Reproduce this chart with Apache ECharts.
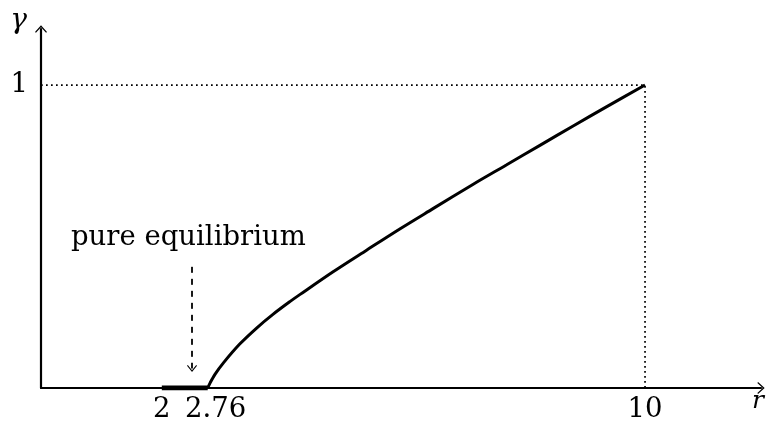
<!DOCTYPE html>
<html>
<head>
<meta charset="utf-8">
<script src="https://cdn.jsdelivr.net/npm/echarts@6/dist/echarts.min.js"></script>
<style>html,body{margin:0;padding:0;background:#fff}#c{width:769px;height:424px}</style>
</head>
<body>
<div id="c"></div>
<script>
// ---- data ----
const curveR     = [2.76, 2.80, 2.88, 3.02, 3.29, 3.57, 3.84, 4.12, 4.29, 4.83, 5.39, 5.94, 6.49, 7.15, 7.71, 8.26, 8.81, 9.36, 10];
const curveGamma = [0,    0.017,0.045,0.083,0.145,0.198,0.243,0.285,0.309,0.383,0.455,0.525,0.592,0.672,0.737,0.801,0.865,0.928, 1];
const pureSegR   = [2, 2.76];
const pureSegG   = [0, 0];
const guideR     = [0, 10, 10];
const guideG     = [1, 1, 0];
const xTickValues = [2, 2.76, 10];
const xTickLabels = ['2', '2.76', '10'];
const yTickValues = [1];
const yTickLabels = ['1'];
const noteText   = 'pure equilibrium';
const notePos    = [2.44, 0.495];
const noteArrowR = [2.5, 2.5];
const noteArrowG = [0.40, 0.064];
const xName = 'r';
const yName = 'γ';

const zip = (a, b) => a.map((v, i) => [v, b[i]]);
const FONT = 'DejaVu Serif';
const FS = 27.5;
const chevron = 'path://M0,0 L10,11 L8.4,12.2 L0,3.2 L-8.4,12.2 L-10,11 Z';

const chart = echarts.init(document.getElementById('c'), null, {renderer: 'canvas'});
chart.setOption({
  animation: false,
  backgroundColor: '#fff',
  grid: {left: 41, top: 29, right: 8, bottom: 36, containLabel: false},
  xAxis: {
    type: 'value', min: 0, max: 11.92,
    name: xName, nameLocation: 'end', nameGap: -3,
    nameTextStyle: {fontFamily: FONT, fontStyle: 'italic', fontSize: 25, color: '#000', align: 'center', verticalAlign: 'top', padding: [1, 0, 0, 0]},
    axisLine: {show: true, onZero: false, symbol: ['none', chevron], symbolSize: [12, 8], lineStyle: {color: '#000', width: 2.2}},
    axisTick: {show: false},
    splitLine: {show: false},
    axisLabel: {
      customValues: xTickValues, margin: 8,
      fontFamily: FONT, fontSize: FS, color: '#000',
      formatter: v => {
        const i = xTickValues.findIndex(t => Math.abs(t - v) < 1e-6);
        const s = i >= 0 ? xTickLabels[i] : '';
        return s === '2.76' ? '{p|' + s + '}' : s;
      },
      rich: {p: {fontFamily: FONT, fontSize: FS, color: '#000', padding: [0, 0, 0, 16]}}
    }
  },
  yAxis: {
    type: 'value', min: 0, max: 1.185,
    name: yName, nameLocation: 'end', nameGap: 8,
    nameTextStyle: {fontFamily: FONT, fontStyle: 'italic', fontSize: 28, color: '#000', align: 'right', verticalAlign: 'middle', padding: [0, 14, 0, 0]},
    axisLine: {show: true, onZero: false, symbol: ['none', chevron], symbolSize: [12, 8], lineStyle: {color: '#000', width: 2.2}},
    axisTick: {show: false},
    splitLine: {show: false},
    axisLabel: {
      customValues: yTickValues, margin: 13,
      fontFamily: FONT, fontSize: FS, color: '#000',
      formatter: v => { const i = yTickValues.findIndex(t => Math.abs(t - v) < 1e-6); return i >= 0 ? yTickLabels[i] : ''; }
    }
  },
  series: [
    {
      type: 'line', data: zip(guideR, guideG), showSymbol: false, silent: true,
      lineStyle: {color: '#000', width: 1.7, type: [1.7, 3.3]}, z: 2
    },
    {
      type: 'line', data: zip(pureSegR, pureSegG), showSymbol: false, silent: true,
      lineStyle: {color: '#000', width: 4.8, cap: 'butt'}, z: 3
    },
    {
      type: 'line', data: zip(curveR, curveGamma), showSymbol: false, silent: true,
      smooth: 0.3,
      lineStyle: {color: '#000', width: 3}, z: 4
    },
    {
      type: 'line', data: [], silent: true,
      markLine: {
        silent: true, animation: false,
        symbol: ['none', chevron], symbolSize: [10, 7],
        label: {show: false},
        lineStyle: {color: '#000', width: 1.8, type: [6, 6]},
        data: [[{coord: [noteArrowR[0], noteArrowG[0]]}, {coord: [noteArrowR[1], noteArrowG[1]]}]]
      }
    },
    {
      type: 'scatter', data: [notePos], symbolSize: 0, silent: true,
      itemStyle: {color: '#000', opacity: 1},
      label: {show: true, position: 'inside', formatter: noteText, fontFamily: FONT, fontSize: FS, color: '#000', textBorderWidth: 0}
    }
  ]
});
</script>
</body>
</html>
